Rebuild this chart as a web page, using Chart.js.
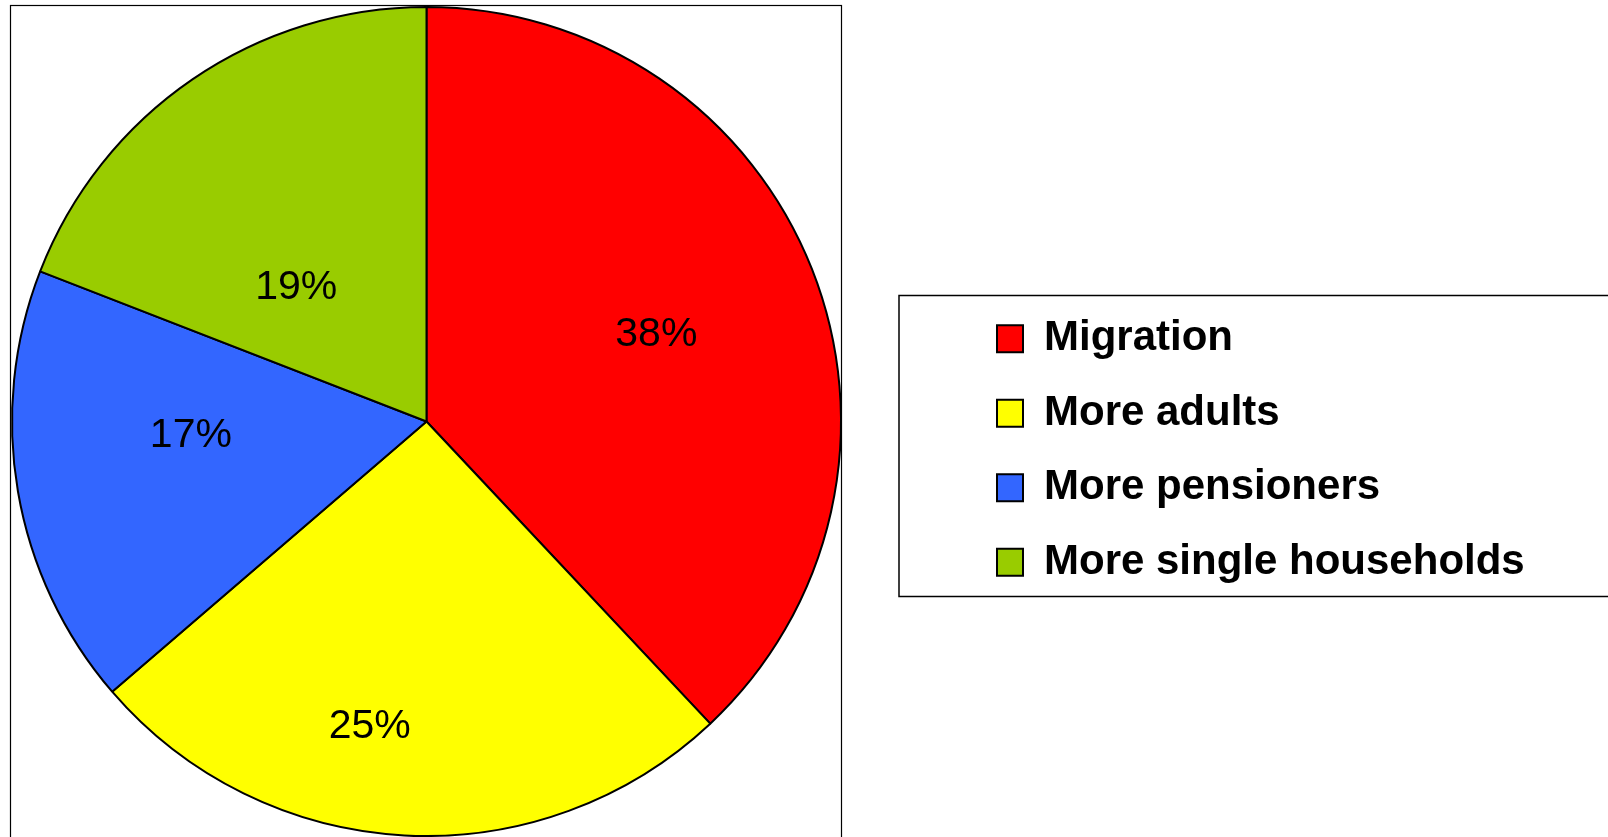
<!DOCTYPE html>
<html>
<head>
<meta charset="utf-8">
<title>Household growth factors</title>
<script src="https://cdn.jsdelivr.net/npm/chart.js@4.4.0/dist/chart.umd.min.js"></script>
<style>
  html, body { margin: 0; padding: 0; background: #fff; }
  canvas { display: block; }
</style>
</head>
<body>
<canvas id="pieChart" width="1608" height="837"></canvas>
<script>
// Slice names, shares and the % printed on each slice
const categories = ['Migration', 'More adults', 'More pensioners', 'More single households'];
const shares = [38.0, 25.7, 17.2, 19.1];
const shownPercent = [38, 25, 17, 19];
const sliceColours = ['#FF0000', '#FFFF00', '#3366FF', '#99CC00'];

// where each % label sits: fraction of radius + small turn (deg) off the slice middle
const labelSpots = [
    { r: 0.596, turn: 0.1 },
    { r: 0.740, turn: 7.6 },
    { r: 0.569, turn: 7.2 },
    { r: 0.457, turn: -9.1 }
];

const labelFont = 41;

// Draw the percentages inside the slices
const percentLabels = {
    id: 'percentLabels',
    afterDatasetsDraw(chart) {
        const ctx = chart.ctx;
        const arcs = chart.getDatasetMeta(0).data;
        ctx.save();
        ctx.font = labelFont + 'px "Liberation Sans", Arial, sans-serif';
        ctx.fillStyle = '#000';
        ctx.textAlign = 'center';
        ctx.textBaseline = 'alphabetic';
        arcs.forEach((arc, i) => {
            const p = arc.getProps(['x', 'y', 'startAngle', 'endAngle', 'outerRadius']);
            const a = (p.startAngle + p.endAngle) / 2 + labelSpots[i].turn * Math.PI / 180;
            const d = p.outerRadius * labelSpots[i].r;
            const x = p.x + Math.cos(a) * d;
            const y = p.y + Math.sin(a) * d;
            ctx.fillText(shownPercent[i] + '%', x, y + labelFont * 0.358);
        });
        ctx.restore();
    }
};

// Move the legend out to the right-hand box
const legendPlacer = {
    id: 'legendPlacer',
    afterLayout(chart) {
        const lg = chart.legend;
        lg.left = 964.5;
        lg.top = 285.2;
        lg.right = 1608;
        lg.bottom = 837;
        lg.width = lg.right - lg.left;
        lg.height = lg.bottom - lg.top;
    }
};

// Frame round the pie and round the legend
const frames = {
    id: 'frames',
    afterDraw(chart) {
        const ctx = chart.ctx;
        const area = chart.chartArea;
        ctx.save();
        ctx.strokeStyle = '#000';
        ctx.lineWidth = 1.2;
        ctx.strokeRect(area.left - 0.5, area.top - 0.5, area.right - area.left, 900);
        ctx.lineWidth = 1.5;
        ctx.strokeRect(899, 295.5, 800, 301);
        ctx.restore();
    }
};

new Chart('pieChart', {
    type: 'pie',
    data: {
        labels: categories,
        datasets: [{
            data: shares,
            backgroundColor: sliceColours,
            borderColor: '#000',
            borderWidth: 2,
            hoverOffset: 0
        }]
    },
    options: {
        responsive: false,
        animation: false,
        events: [],
        layout: {
            padding: { left: 11, top: 6, right: 766, bottom: 0 }
        },
        plugins: {
            tooltip: { enabled: false },
            legend: {
                position: 'chartArea',
                align: 'start',
                labels: {
                    color: '#000',
                    boxWidth: 26,
                    boxHeight: 27,
                    padding: 32.5,
                    font: { family: '"Liberation Sans", Arial, sans-serif', size: 42, weight: 'bold' }
                }
            }
        }
    },
    plugins: [legendPlacer, percentLabels, frames]
});
</script>
</body>
</html>
